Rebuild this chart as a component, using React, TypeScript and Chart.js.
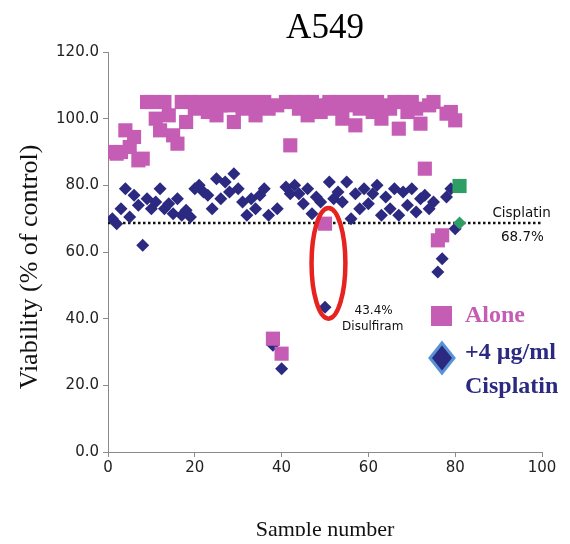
import React, { useEffect, useRef } from "react";
import { Chart, registerables } from "chart.js";

Chart.register(...registerables);

// ---------- data ----------
const sampleNumbers = [
  1, 2, 3, 4, 5, 6, 7, 8, 9, 10, 11, 12, 13, 14, 15, 16, 17, 18, 19, 20,
  21, 22, 23, 24, 25, 26, 27, 28, 29, 30, 31, 32, 33, 34, 35, 36, 37, 38, 39, 40,
  41, 42, 43, 44, 45, 46, 47, 48, 49, 50, 51, 52, 53, 54, 55, 56, 57, 58, 59, 60,
  61, 62, 63, 64, 65, 66, 67, 68, 69, 70, 71, 72, 73, 74, 75, 76, 77, 78, 79, 80,
];

const aloneValues = [
  90, 89.5, 90, 96.5, 91.5, 94.5, 87.5, 88, 105, 105, 100, 96.5, 105, 101, 95, 92.5, 105, 99, 105, 103,
  105, 104, 102, 105, 101, 104, 105, 104, 99, 105, 103, 104, 105, 101, 104, 105, 103, 34, 104, 29.5,
  105, 92, 105, 103, 105, 101, 105, 104, 102, 68.5, 105, 103, 105, 100, 104, 105, 98, 103, 105, 104,
  102, 105, 100, 104, 103, 105, 97, 105, 102, 105, 103, 98.5, 85, 104, 105, 63.5, 65, 101.5, 102, 99.5,
];

const cisplatinValues = [
  70, 68.5, 73, 79, 70.5, 77, 74, 62, 76, 73, 75, 79, 73, 74.5, 71.5, 76, 71, 72.5, 70.5, 79,
  80, 78, 77, 73, 82, 76, 81, 78, 83.5, 79, 75, 71, 76, 73, 77, 79, 71, 32, 73, 25,
  79.5, 77.5, 80, 77.5, 74.5, 79, 71.5, 76.5, 75, 43.4, 81, 76, 78, 75, 81, 70, 77.5, 73, 79, 74.5,
  77.5, 80, 71, 76.5, 73, 79, 71, 78, 74, 79, 72, 76, 77, 73, 75, 54, 58, 76.5, 79, 67,
];

const controlSample = [81];
const controlAlone = [79.8];
const controlCisplatin = [68.7];

const cisplatinLevel = 68.7;
const xTicks = [0, 20, 40, 60, 80, 100];
const yTicks = [0, 20, 40, 60, 80, 100, 120];

// ---------- styles / annotation placement ----------
const PINK = "#C55DB5";
const NAVY = "#2B2A80";
const GREEN = "#2E9E65";
const SERIF = '"Liberation Serif", "Times New Roman", serif';
const SANS = '"DejaVu Sans", Verdana, sans-serif';

const ellipseCenter = { x: 50.8, y: 56.6 };
const ellipseRadius = { x: 3.9, y: 16.6 };

const overlayPlugin = {
  id: "overlay",
  afterDatasetsDraw(chart: any) {
    const { ctx, scales } = chart;
    const xs = scales.x;
    const ys = scales.y;
    ctx.save();

    // red ellipse
    const cx = xs.getPixelForValue(ellipseCenter.x);
    const cy = ys.getPixelForValue(ellipseCenter.y);
    const rx = xs.getPixelForValue(ellipseCenter.x + ellipseRadius.x) - cx;
    const ry = cy - ys.getPixelForValue(ellipseCenter.y + ellipseRadius.y);
    ctx.beginPath();
    ctx.ellipse(cx, cy, rx, ry, 0, 0, Math.PI * 2);
    ctx.strokeStyle = "#E6231F";
    ctx.lineWidth = 4.5;
    ctx.stroke();

    // small annotations
    ctx.fillStyle = "#111";
    ctx.textAlign = "center";
    ctx.textBaseline = "middle";
    ctx.font = `13.5px ${SANS}`;
    ctx.fillText("Cisplatin", xs.getPixelForValue(95.3), ys.getPixelForValue(71.6));
    ctx.fillText("68.7%", xs.getPixelForValue(95.5), ys.getPixelForValue(64.4));
    ctx.font = `12px ${SANS}`;
    ctx.fillText("43.4%", xs.getPixelForValue(61.2), ys.getPixelForValue(42.4));
    ctx.fillText("Disulfiram", xs.getPixelForValue(61.0), ys.getPixelForValue(37.4));

    // legend
    const lx = 434; // canvas px (center of markers)
    ctx.fillStyle = PINK;
    ctx.fillRect(lx - 11, 298, 21, 20);
    ctx.font = `bold 24px ${SERIF}`;
    ctx.textAlign = "left";
    ctx.fillText("Alone", 457, 308);

    ctx.beginPath();
    ctx.moveTo(lx, 335);
    ctx.lineTo(lx + 12, 350);
    ctx.lineTo(lx, 365);
    ctx.lineTo(lx - 12, 350);
    ctx.closePath();
    ctx.fillStyle = NAVY;
    ctx.fill();
    ctx.strokeStyle = "#5A92D6";
    ctx.lineWidth = 3;
    ctx.stroke();
    ctx.fillStyle = NAVY;
    ctx.fillText("+4 \u00B5g/ml", 457, 345);
    ctx.fillText("Cisplatin", 457, 379);

    // y axis title
    ctx.save();
    ctx.translate(22, 259);
    ctx.rotate(-Math.PI / 2);
    ctx.textAlign = "center";
    ctx.fillStyle = "#111";
    ctx.font = `26px ${SERIF}`;
    ctx.fillText("Viability (% of control)", 0, 0);
    ctx.restore();

    ctx.restore();
  },
};

export default function App() {
  const ref = useRef<HTMLCanvasElement | null>(null);

  useEffect(() => {
    if (!ref.current) return;
    const chart = new Chart(ref.current, {
      type: "scatter",
      data: {
        datasets: [
          {
            label: "Control",
            data: controlSample.map((s, i) => ({ x: s, y: controlAlone[i] })),
            pointStyle: "rect",
            pointRadius: 10,
            backgroundColor: GREEN,
            borderColor: GREEN,
            borderWidth: 0,
            order: 0,
          },
          {
            label: "Control cisplatin",
            data: controlSample.map((s, i) => ({ x: s, y: controlCisplatin[i] })),
            pointStyle: "rectRot",
            pointRadius: 6.5,
            backgroundColor: GREEN,
            borderColor: GREEN,
            borderWidth: 0,
            order: 0,
          },
          {
            label: "Alone",
            data: sampleNumbers.map((s, i) => ({ x: s, y: aloneValues[i] })),
            pointStyle: "rect",
            pointRadius: 10,
            backgroundColor: PINK,
            borderColor: PINK,
            borderWidth: 0,
            order: 1,
          },
          {
            label: "+4 \u00B5g/ml Cisplatin",
            data: sampleNumbers.map((s, i) => ({ x: s, y: cisplatinValues[i] })),
            pointStyle: "rectRot",
            pointRadius: 6.5,
            backgroundColor: NAVY,
            borderColor: NAVY,
            borderWidth: 0,
            order: 2,
          },
          {
            type: "line",
            label: "Cisplatin 68.7%",
            data: [
              { x: xTicks[0], y: cisplatinLevel },
              { x: xTicks[xTicks.length - 1], y: cisplatinLevel },
            ],
            borderColor: "#111",
            borderWidth: 2.5,
            borderDash: [2.5, 2.5],
            pointRadius: 0,
            fill: false,
            order: 3,
          } as any,
        ],
      },
      options: {
        animation: false,
        responsive: false,
        layout: { padding: { left: 0, right: 20, top: 0, bottom: 0 } },
        plugins: {
          legend: { display: false },
          tooltip: { enabled: false },
          title: {
            display: true,
            text: "A549",
            fullSize: false,
            color: "#000",
            font: { family: SERIF, size: 35, weight: "normal", lineHeight: 1.2 },
            padding: { top: 0, bottom: 2 },
          },
        },
        scales: {
          x: {
            type: "linear",
            min: 0,
            max: 100,
            afterFit: (s: any) => {
              s.height = 84;
            },
            afterBuildTicks: (s: any) => {
              s.ticks = xTicks.map((v) => ({ value: v }));
            },
            ticks: {
              color: "#222",
              font: { family: SANS, size: 15 },
              padding: 2,
              maxRotation: 0,
            },
            grid: {
              drawOnChartArea: false,
              color: "#8a8a8a",
              tickLength: 5,
            },
            border: { display: true, color: "#8a8a8a", width: 1 },
            title: {
              display: true,
              text: "Sample number",
              color: "#111",
              font: { family: SERIF, size: 22, weight: "normal" },
              padding: { top: 0, bottom: -7 },
            },
          },
          y: {
            type: "linear",
            min: 0,
            max: 120,
            afterFit: (s: any) => {
              s.width = 100;
            },
            afterBuildTicks: (s: any) => {
              s.ticks = yTicks.map((v) => ({ value: v }));
            },
            ticks: {
              color: "#222",
              font: { family: SANS, size: 15 },
              padding: 4,
              callback: (v: any) => Number(v).toFixed(1),
            },
            grid: {
              drawOnChartArea: false,
              color: "#8a8a8a",
              tickLength: 5,
            },
            border: { display: true, color: "#8a8a8a", width: 1 },
          },
        },
      },
      plugins: [overlayPlugin],
    });
    return () => chart.destroy();
  }, []);

  return (
    <div>
      <canvas ref={ref} width={554} height={528} style={{ display: "block" }} />
    </div>
  );
}
